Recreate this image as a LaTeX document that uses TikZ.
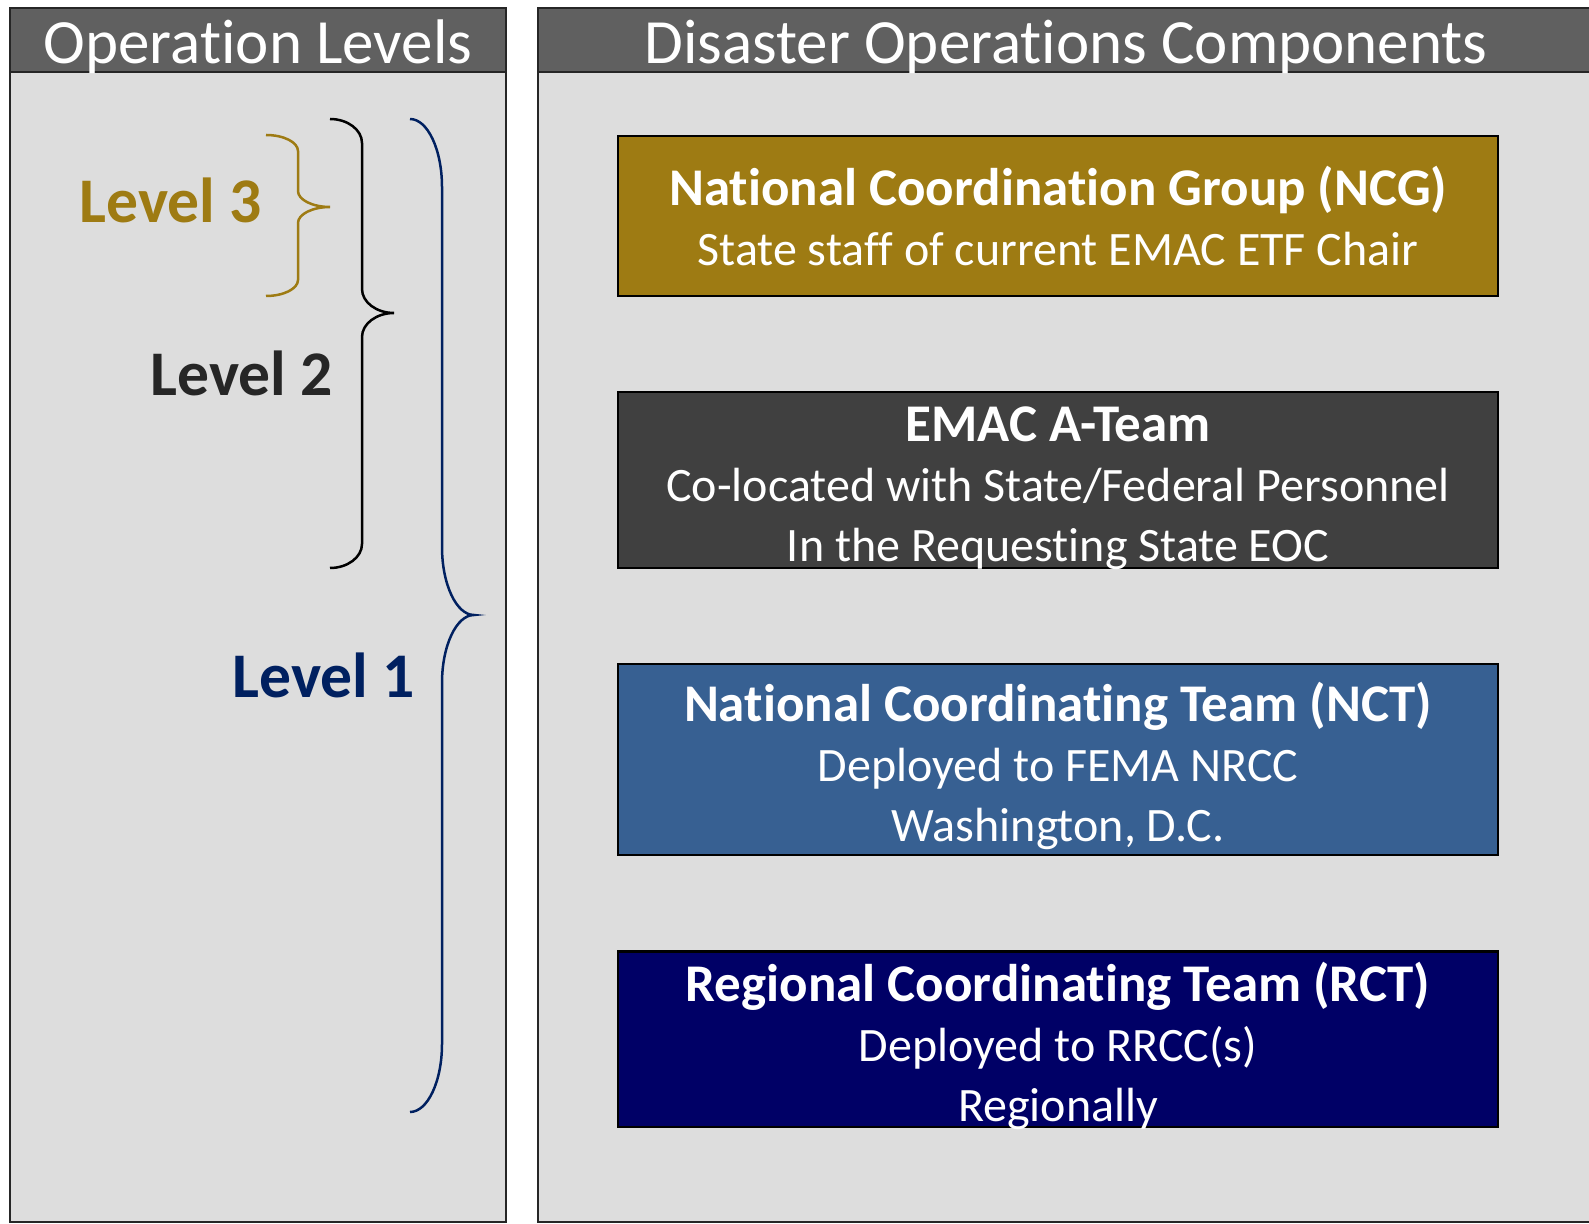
\documentclass[tikz,border=0pt]{standalone}
\usepackage{fontspec}
\setmainfont{Carlito}[RawFeature={-liga;-clig;-dlig;-calt;-rlig}]

\definecolor{hdrgrey}{HTML}{606060}
\definecolor{panelgrey}{HTML}{DDDDDD}
\definecolor{ncggold}{HTML}{9E7B13}
\definecolor{ateamgrey}{HTML}{404040}
\definecolor{nctblue}{HTML}{376092}
\definecolor{rctnavy}{HTML}{000066}
\definecolor{levelnavy}{HTML}{002060}
\definecolor{leveldark}{HTML}{262626}

\tikzset{
    panel/.style={fill=panelgrey, draw=black!85, line width=1pt},
    panelhead/.style={fill=hdrgrey, draw=black!85, line width=1pt},
    headtext/.style={text=white, anchor=base, font=\fontsize{31.5}{36}\selectfont},
    leveltext/.style={anchor=base, font=\bfseries\fontsize{31.8}{36}\selectfont},
    compbox/.style={draw=black, line width=1.2pt, text=white, align=center,
        minimum width=440pt, inner xsep=0pt, inner ysep=-6pt, font=\fontsize{24}{30}\selectfont},
    braceline/.style={line width=1.25pt},
}

\newcommand{\Title}[1]{{\bfseries\fontsize{26.5}{30}\selectfont #1}}
\newcommand{\TopStrut}{\rule{0pt}{26pt}}

% colour, x of ends, x of tip, y top, y tip, y bottom, bend
\newcommand{\LevelBrace}[7]{
    \pgfmathsetmacro{\bmid}{(#2+#3)/2}
    \draw[#1, braceline] (#2,#4)
        .. controls ({#2+0.55*(\bmid-#2)},#4) and (\bmid,{#4+0.45*#7}) .. (\bmid,{#4+#7})
        -- (\bmid,{#5-#7})
        .. controls (\bmid,{#5-0.45*#7}) and ({\bmid+0.45*(#3-\bmid)},#5) .. (#3,#5)
        .. controls ({\bmid+0.45*(#3-\bmid)},#5) and (\bmid,{#5+0.45*#7}) .. (\bmid,{#5+#7})
        -- (\bmid,{#6-#7})
        .. controls (\bmid,{#6-0.45*#7}) and ({#2+0.55*(\bmid-#2)},#6) .. (#2,#6);
}

\begin{document}
\begin{tikzpicture}[x=0.5pt, y=-0.5pt]
    \useasboundingbox (0,0) rectangle (1589,1224);
    % left panel
    \draw[panel] (10,8) rectangle (506,1222);
    \draw[panelhead] (10,8) rectangle (506,72);
    \node[headtext] (levhead) at (258,64) {Operation Levels};
    % right panel
    \draw[panel] (538,8) rectangle (1600,1222);
    \draw[panelhead] (538,8) rectangle (1600,72);
    \node[headtext] (comphead) at (1066,64) {Disaster Operations Components};
    % levels
    \node[leveltext, text=ncggold] (lvl3) at (171,223) {Level 3};
    \node[leveltext, text=leveldark] (lvl2) at (242,396) {Level 2};
    \node[leveltext, text=levelnavy] (lvl1) at (324,697) {Level 1};
    \LevelBrace{ncggold}{266}{330}{135}{207}{296}{16}
    \LevelBrace{black}{330}{394}{119}{313}{568}{24}
    \LevelBrace{levelnavy}{410}{474}{119}{615}{1112}{68}
    % components
    \node[compbox, fill=ncggold, minimum height=80pt] (ncg) at (1058,216)
        {\Title{National Coordination Group (NCG)}\\ State staff of current EMAC ETF Chair};
    \node[compbox, fill=ateamgrey, minimum height=87.75pt] (ateam) at (1058,480)
        {\TopStrut\Title{EMAC A-Team}\\ Co-located with State/Federal Personnel\\ In the Requesting State EOC};
    \node[compbox, fill=nctblue, minimum height=95.5pt] (nct) at (1058,759.5)
        {\TopStrut\Title{National Coordinating Team (NCT)}\\ Deployed to FEMA NRCC\\ Washington, D.C.};
    \node[compbox, fill=rctnavy, minimum height=87.75pt] (rct) at (1058,1039.3)
        {\TopStrut\Title{Regional Coordinating Team (RCT)}\\ Deployed to RRCC(s)\\ Regionally};
\end{tikzpicture}
\end{document}
